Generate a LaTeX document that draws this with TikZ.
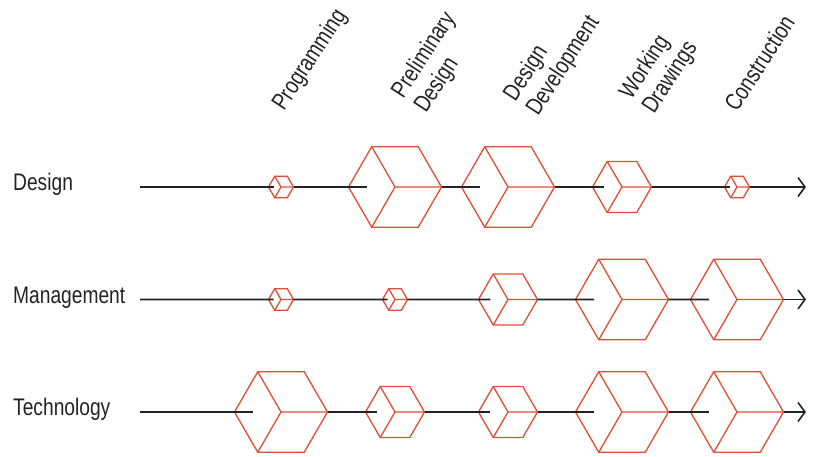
\documentclass[tikz,border=0pt]{standalone}
\usepackage{fontspec}
\setmainfont{Liberation Sans}[FakeStretch=0.8]
\usepackage{tikz}
\usetikzlibrary{arrows.meta,calc,shapes.geometric}

\definecolor{cubered}{RGB}{222,78,52}
\definecolor{inkgray}{RGB}{35,35,35}

\tikzset{
  cube/.style={regular polygon, regular polygon sides=6, draw=cubered, line width=1.3pt, inner sep=0pt, outer sep=0pt, minimum size=#1},
  facet/.style={draw=cubered, line width=1.3pt},
  rowline/.style={draw=inkgray, line width=1.6pt},
  rowlabel/.style={anchor=base west, inner sep=0pt, text=inkgray, font=\fontsize{24}{27}\selectfont},
  phase/.style={rotate=57, anchor=base west, inner sep=0pt, align=left, text=inkgray, font=\fontsize{24}{27}\selectfont},
}

\begin{document}
\begin{tikzpicture}[x=1pt,y=-1pt]
\useasboundingbox (0,0) rectangle (817,457);
% phase headings
\node[phase] (prog) at (284,112) {Programming};
\node[phase] (prel) at (426,114) {Preliminary\\Design};
\node[phase] (devl) at (538,117) {Design\\Development};
\node[phase] (work) at (654,115) {Working\\Drawings};
\node[phase] (cons) at (737,113) {Construction};
% one row per discipline: label, cubes, line
\foreach \rw/\y/\lbl/\sa/\sb/\sc/\sd/\se in {d/187/Design/25/93/93/59/25, m/299.5/Management/25/25/59/93/93, t/412/Technology/93/59/59/93/93}{
  \node[rowlabel] (\rw-lbl) at (13,\y+3.5) {\lbl};
  \coordinate (\rw0) at (140,\y);
  \coordinate (\rw6) at (806,\y);
  \foreach \col/\x/\s in {1/281/\sa, 2/395/\sb, 3/508/\sc, 4/622/\sd, 5/737/\se}{
    \node[cube=\s pt] (\rw\col) at (\x,\y) {};
    \coordinate (\rw\col-in) at ($(\rw\col.180)!0.2!(\rw\col.0)$);
    \draw[facet] (\rw\col.120) -- (\rw\col.center) -- (\rw\col.240) (\rw\col.center) -- (\rw\col.0);
  }
  \draw[rowline] (\rw0) -- (\rw1-in);
  \foreach \col [remember=\col as \prv (initially 1)] in {2,...,5}
    \draw[rowline] (\rw\prv.0) -- (\rw\col-in);
  \draw[rowline,-{Straight Barb[length=7pt,width=19pt]}] (\rw5.0) -- (\rw6);
}
\end{tikzpicture}
\end{document}
